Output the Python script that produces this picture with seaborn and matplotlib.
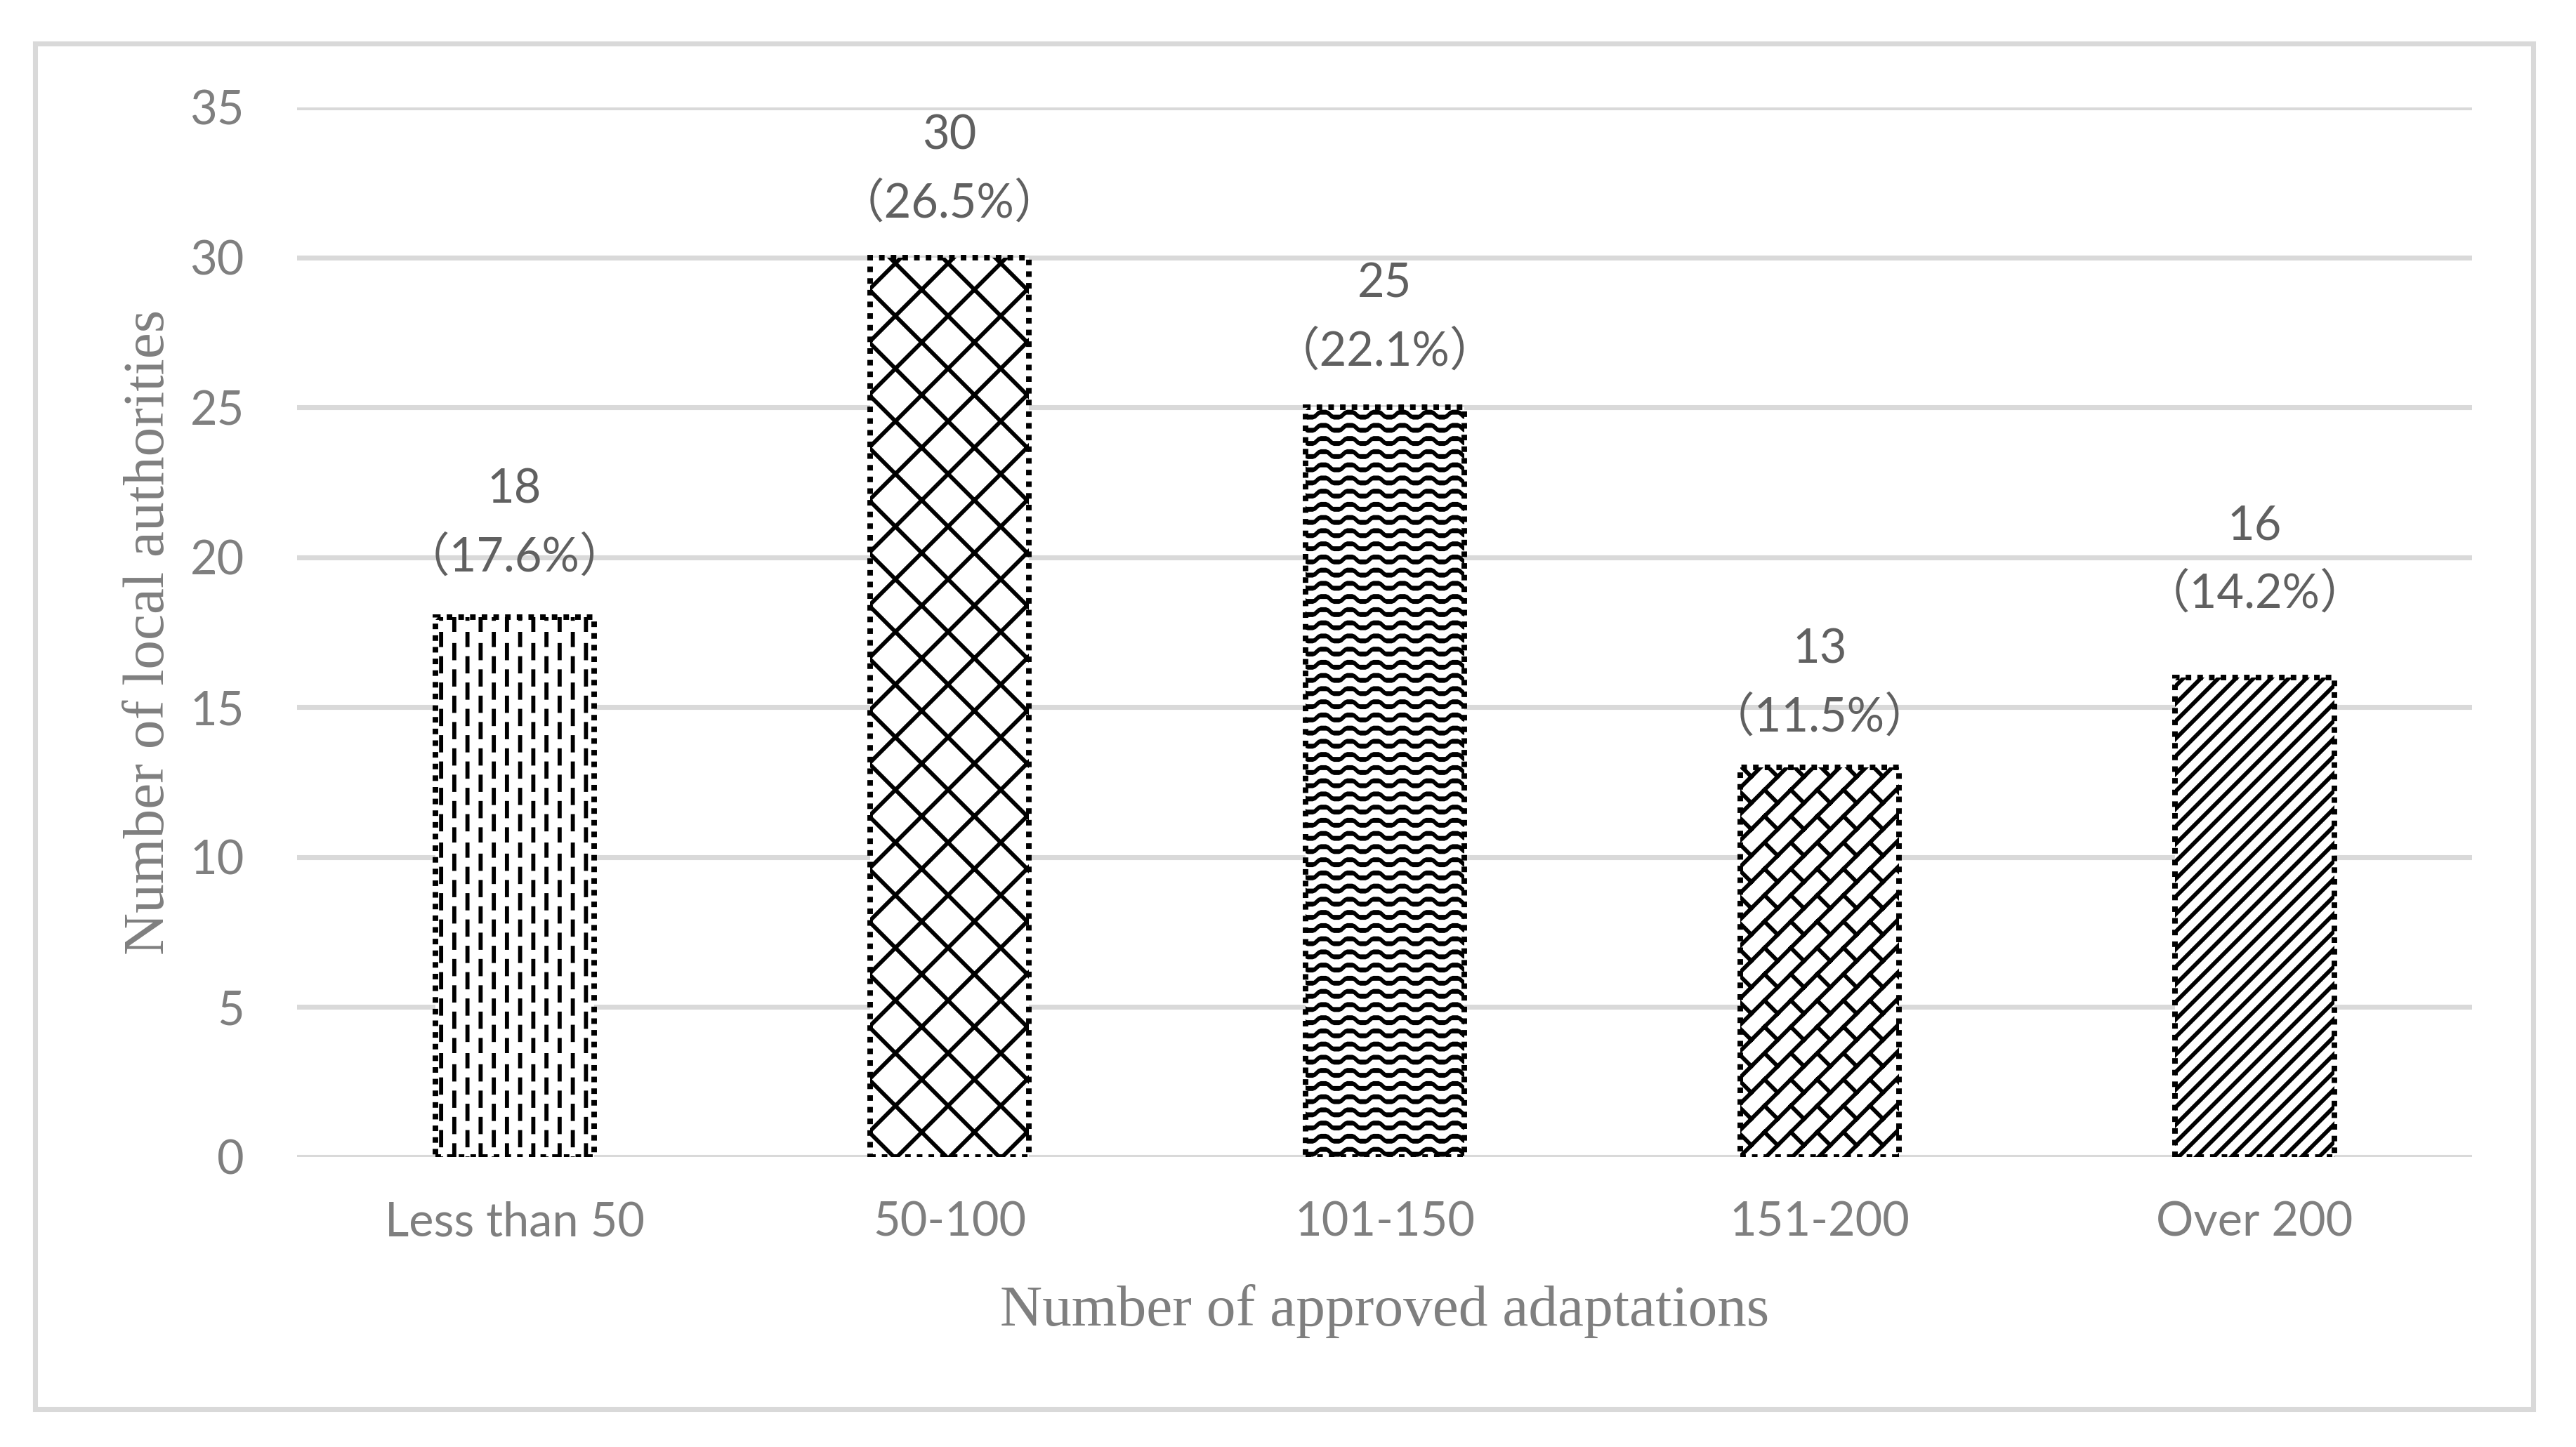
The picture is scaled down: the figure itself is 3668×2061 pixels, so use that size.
import numpy as np
import matplotlib
matplotlib.use("Agg")
import matplotlib.pyplot as plt
import matplotlib.hatch as mhatch
from matplotlib.path import Path
from matplotlib.patches import Rectangle
import seaborn as sns
import pandas as pd

# ---------------- data ----------------
categories = ["Less than 50", "50-100", "101-150", "151-200", "Over 200"]
counts = [18, 30, 25, 13, 16]
percents = ["17.6", "26.5", "22.1", "11.5", "14.2"]
y_ticks = [0, 5, 10, 15, 20, 25, 30, 35]
x_title = "Number of approved adaptations"
y_title = "Number of local authorities"

# extra label lift per bar (points), as placed in the original
label_lift = [2, 0, 0.5, -1.5, 10]

# hatch tile scaling (tile renders ~4/3 larger than wanted)
HF = 4 / 3


# ---------------- custom hatch styles ----------------
class DenseNE(mhatch.NorthEastHatch):
    def __init__(self, hatch, density):
        super().__init__(hatch, density * HF)


class DenseSE(mhatch.SouthEastHatch):
    def __init__(self, hatch, density):
        super().__init__(hatch, density * HF)


class DashedVerticalHatch(mhatch.HatchPatternBase):
    """Staggered short vertical dashes (key 'o')."""
    def __init__(self, hatch, density):
        self.on = 'o' in hatch
        self.cols = int(12 * HF)
        self.rows = int(6 * HF)
        self.num_vertices = 2 * self.cols * self.rows if self.on else 0

    def set_vertices_and_codes(self, vertices, codes):
        k = 0
        for i in range(self.cols):
            x = (i + 0.5) / self.cols
            for j in range(self.rows):
                y0 = (2 * j + (i % 2)) / (2 * self.rows)
                y1 = y0 + 1 / (2 * self.rows)
                vertices[k] = (x, y0)
                vertices[k + 1] = (x, y1)
                k += 2
        codes[0::2] = Path.MOVETO
        codes[1::2] = Path.LINETO


class WaveHatch(mhatch.HatchPatternBase):
    """Horizontal wavy lines (key 'O')."""
    def __init__(self, hatch, density):
        self.on = 'O' in hatch
        self.rows = int(12 * HF)
        self.periods = int(6 * HF)
        self.npts = self.periods * 12 + 1
        self.num_vertices = self.rows * self.npts if self.on else 0

    def set_vertices_and_codes(self, vertices, codes):
        t = np.linspace(0, 1, self.npts)
        wave = (0.018 / HF) * np.clip(1.4 * np.sin(2 * np.pi * self.periods * t), -1, 1)
        for r in range(self.rows):
            s = r * self.npts
            vertices[s:s + self.npts, 0] = t
            vertices[s:s + self.npts, 1] = (r + 0.5) / self.rows + wave
            codes[s:s + self.npts] = Path.LINETO
            codes[s] = Path.MOVETO


class DiagonalBrickHatch(mhatch.HatchPatternBase):
    """Diagonal bricks (key '*')."""
    def __init__(self, hatch, density):
        self.on = '*' in hatch
        self.n = int(6 * HF)
        self.num_vertices = ((2 * self.n + 1) + self.n * self.n) * 2 if self.on else 0

    def set_vertices_and_codes(self, vertices, codes):
        n = self.n
        k = 0
        for m in range(-n, n + 1):
            vertices[k] = (0, m / n)
            vertices[k + 1] = (1, 1 + m / n)
            k += 2
        for i in range(n):
            for j in range(n):
                vertices[k] = ((i + 0.5) / n, (j + 0.5) / n)
                vertices[k + 1] = (i / n, (j + 1) / n)
                k += 2
        codes[0::2] = Path.MOVETO
        codes[1::2] = Path.LINETO


mhatch._hatch_types = [mhatch.HorizontalHatch, mhatch.VerticalHatch,
                       DenseNE, DenseSE,
                       DashedVerticalHatch, WaveHatch, DiagonalBrickHatch]

bar_hatches = ['o', 'x', 'O', '*', '///']

# ---------------- style ----------------
sns.set_theme(style="white")
plt.rcParams['font.family'] = ['Lato', 'Noto Sans CJK JP', 'DejaVu Sans']
plt.rcParams['hatch.linewidth'] = 1.4
plt.rcParams['hatch.color'] = 'black'

tick_color = '#7f7f7f'
label_color = '#606060'
grid_color = '#d9d9d9'

fig = plt.figure(figsize=(3668 / 300, 2061 / 300), dpi=300)
ax = fig.add_axes([0.1153, 0.2004, 0.8444, 0.7254])

df = pd.DataFrame({'category': categories, 'count': counts})
sns.barplot(data=df, x='category', y='count', color='white', edgecolor='black',
            linewidth=1.9, width=0.365, ax=ax, zorder=3)

for patch, h in zip(ax.patches, bar_hatches):
    patch.set_facecolor('white')
    patch.set_hatch(h)
    patch.set_linestyle((0, (1, 1.1)))

ax.set_xlim(-0.5, 4.5)
ax.set_ylim(0, 35)
ax.set_yticks(y_ticks)
ax.set_axisbelow(True)
ax.yaxis.grid(True, color=grid_color, linewidth=1.7)
ax.xaxis.grid(False)
for sp in ax.spines.values():
    sp.set_visible(False)
ax.tick_params(axis='both', length=0, labelsize=16, labelcolor=tick_color)
ax.tick_params(axis='y', pad=18)
ax.tick_params(axis='x', pad=15)

ax.set_xlabel(x_title, fontfamily='Liberation Serif', fontsize=20, color=tick_color)
ax.set_ylabel(y_title, fontfamily='Liberation Serif', fontsize=20, color=tick_color)
ax.xaxis.set_label_coords(0.5, -0.121)
ax.yaxis.set_label_coords(-0.0555, 0.5)

for i, (c, p) in enumerate(zip(counts, percents)):
    lift = label_lift[i]
    ax.annotate(f"（{p}%）", xy=(i, c), xytext=(0, 18.5 + lift), textcoords='offset points',
                ha='center', va='center', fontsize=16, color=label_color,
                family=['Lato', 'Noto Sans CJK JP'])
    ax.annotate(f"{c}", xy=(i, c), xytext=(0, 41.6 + lift), textcoords='offset points',
                ha='center', va='center', fontsize=16, color=label_color,
                family=['Lato', 'Noto Sans CJK JP'])

frame = Rectangle((50 / 3668, 1 - 2007 / 2061), (3607 - 50) / 3668, (2007 - 62) / 2061,
                  transform=fig.transFigure, fill=False, edgecolor=grid_color,
                  linewidth=1.7)
fig.add_artist(frame)

fig.savefig("out.png", dpi=300, facecolor='white')
